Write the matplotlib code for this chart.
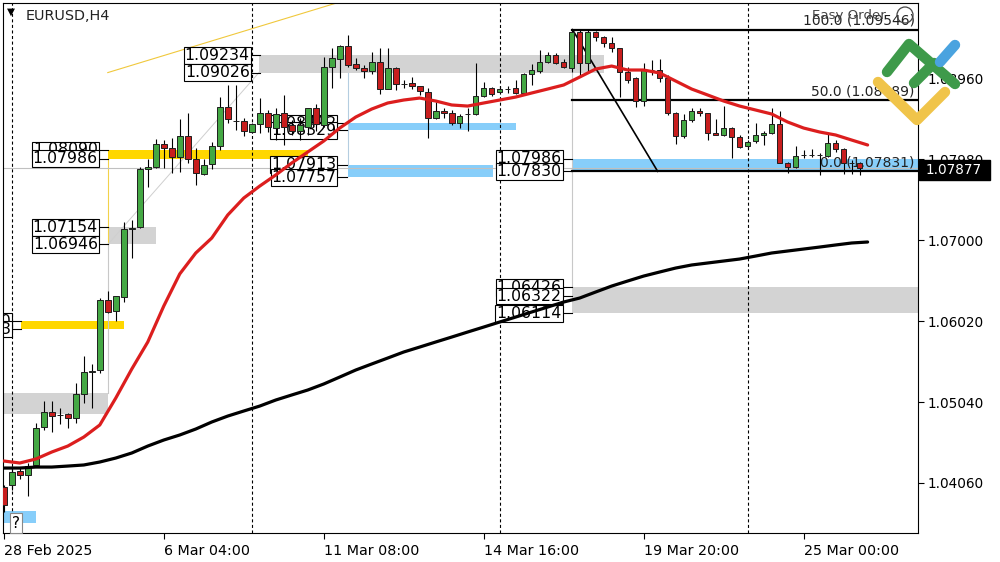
import numpy as np
import matplotlib.pyplot as plt
from matplotlib.lines import Line2D
from matplotlib.patches import Rectangle, Ellipse

plt.rcParams['font.family'] = 'DejaVu Sans'
plt.rcParams['lines.scale_dashes'] = False

# EURUSD H4 candles
opens = [1.04011, 1.04036, 1.04205, 1.04157, 1.04278, 1.04737, 1.04919, 1.04883, 1.04895, 1.04846,
         1.05137, 1.05403, 1.05427, 1.06274, 1.06141, 1.06310, 1.07133, 1.07157, 1.07859, 1.07883,
         1.08162, 1.08113, 1.08004, 1.08258, 1.07980, 1.07799, 1.07920, 1.08137, 1.08609, 1.08440,
         1.08440, 1.08307, 1.08404, 1.08537, 1.08355, 1.08537, 1.08392, 1.08319, 1.08367, 1.08597,
         1.08392, 1.09093, 1.09190, 1.09347, 1.09130, 1.09081, 1.09045, 1.09154, 1.08827, 1.09081,
         1.08888, 1.08900, 1.08863, 1.08791, 1.08476, 1.08561, 1.08537, 1.08416, 1.08525, 1.08525,
         1.08742, 1.08839, 1.08791, 1.08827, 1.08839, 1.08779, 1.09009, 1.09045, 1.09154, 1.09239,
         1.09154, 1.09081, 1.09517, 1.09142, 1.09517, 1.09456, 1.09384, 1.09323, 1.09033, 1.08960,
         1.08682, 1.09057, 1.09057, 1.08960, 1.08537, 1.08258, 1.08452, 1.08561, 1.08537, 1.08295,
         1.08271, 1.08355, 1.08246, 1.08137, 1.08198, 1.08271, 1.08295, 1.08404, 1.07932, 1.07883,
         1.08029, 1.08029, 1.08029, 1.08016, 1.08174, 1.08101, 1.07932, 1.07932]
closes = [1.03793, 1.04193, 1.04157, 1.04265, 1.04725, 1.04919, 1.04870, 1.04883, 1.04846, 1.05137,
          1.05403, 1.05415, 1.06274, 1.06129, 1.06322, 1.07133, 1.07145, 1.07859, 1.07883, 1.08162,
          1.08113, 1.08004, 1.08258, 1.07980, 1.07811, 1.07908, 1.08137, 1.08609, 1.08464, 1.08440,
          1.08319, 1.08404, 1.08537, 1.08367, 1.08525, 1.08367, 1.08319, 1.08392, 1.08597, 1.08404,
          1.09093, 1.09202, 1.09347, 1.09118, 1.09081, 1.09045, 1.09154, 1.08827, 1.09081, 1.08888,
          1.08888, 1.08863, 1.08803, 1.08476, 1.08561, 1.08537, 1.08416, 1.08500, 1.08525, 1.08742,
          1.08839, 1.08767, 1.08827, 1.08827, 1.08779, 1.09009, 1.09057, 1.09154, 1.09239, 1.09142,
          1.09093, 1.09517, 1.09142, 1.09517, 1.09456, 1.09384, 1.09323, 1.09033, 1.08936, 1.08682,
          1.09057, 1.09057, 1.08960, 1.08537, 1.08258, 1.08452, 1.08561, 1.08537, 1.08295, 1.08271,
          1.08355, 1.08246, 1.08125, 1.08186, 1.08271, 1.08295, 1.08404, 1.07932, 1.07883, 1.08016,
          1.08029, 1.08029, 1.08029, 1.08174, 1.08101, 1.07932, 1.07932, 1.07877]
highs = [1.04036, 1.04253, 1.04241, 1.04302, 1.04786, 1.05052, 1.05052, 1.04967, 1.04907, 1.05270,
         1.05596, 1.05500, 1.06298, 1.06383, 1.06322, 1.07218, 1.07242, 1.07883, 1.07980, 1.08222,
         1.08210, 1.08234, 1.08464, 1.08537, 1.08113, 1.07980, 1.08186, 1.08730, 1.08876, 1.08876,
         1.08476, 1.08416, 1.08718, 1.08573, 1.08597, 1.08755, 1.08452, 1.08476, 1.08597, 1.08646,
         1.09214, 1.09323, 1.09360, 1.09481, 1.09202, 1.09118, 1.09275, 1.09323, 1.09323, 1.09093,
         1.08936, 1.08972, 1.08863, 1.08839, 1.08670, 1.08597, 1.08573, 1.08525, 1.08597, 1.09142,
         1.08912, 1.08851, 1.08863, 1.08863, 1.08936, 1.09021, 1.09130, 1.09299, 1.09275, 1.09263,
         1.09190, 1.09546, 1.09541, 1.09541, 1.09529, 1.09468, 1.09456, 1.09323, 1.09093, 1.08972,
         1.09142, 1.09178, 1.09190, 1.08997, 1.08549, 1.08525, 1.08597, 1.08597, 1.08537, 1.08464,
         1.08621, 1.08367, 1.08271, 1.08210, 1.08416, 1.08319, 1.08597, 1.08561, 1.07944, 1.08137,
         1.08089, 1.08101, 1.08053, 1.08295, 1.08210, 1.08113, 1.07968, 1.07944]
lows = [1.03709, 1.03975, 1.04108, 1.03902, 1.04265, 1.04701, 1.04677, 1.04774, 1.04725, 1.04786,
        1.05028, 1.04967, 1.05391, 1.06117, 1.06020, 1.06250, 1.06782, 1.07145, 1.07641, 1.07871,
        1.07871, 1.07811, 1.07823, 1.07932, 1.07666, 1.07787, 1.07859, 1.08089, 1.08416, 1.08331,
        1.08258, 1.08295, 1.08295, 1.08307, 1.08210, 1.08150, 1.08271, 1.08210, 1.08271, 1.08319,
        1.08367, 1.08839, 1.08960, 1.09093, 1.09057, 1.08960, 1.09009, 1.08767, 1.08827, 1.08815,
        1.08839, 1.08827, 1.08755, 1.08234, 1.08464, 1.08476, 1.08392, 1.08355, 1.08319, 1.08513,
        1.08730, 1.08742, 1.08779, 1.08779, 1.08767, 1.08767, 1.08876, 1.09021, 1.09142, 1.09130,
        1.09081, 1.09033, 1.08972, 1.09021, 1.09408, 1.09335, 1.09275, 1.08730, 1.08900, 1.08609,
        1.08621, 1.08997, 1.08912, 1.08513, 1.08162, 1.08234, 1.08428, 1.08500, 1.08210, 1.08271,
        1.08258, 1.07992, 1.08113, 1.08113, 1.08174, 1.08150, 1.08283, 1.07932, 1.07811, 1.07871,
        1.07992, 1.08004, 1.07787, 1.08004, 1.08065, 1.07799, 1.07799, 1.07787]

# moving averages, read every second bar
ma_fast = [1.04326, 1.04302, 1.04350, 1.04435, 1.04507, 1.04616, 1.04762, 1.05088, 1.05439, 1.05766,
           1.06201, 1.06590, 1.06843, 1.07024, 1.07303, 1.07508, 1.07653, 1.07787, 1.07932, 1.08065,
           1.08198, 1.08355, 1.08488, 1.08585, 1.08658, 1.08694, 1.08718, 1.08682, 1.08634, 1.08621,
           1.08658, 1.08694, 1.08730, 1.08779, 1.08827, 1.08876, 1.08972, 1.09069, 1.09105, 1.09057,
           1.09057, 1.09021, 1.08924, 1.08827, 1.08755, 1.08682, 1.08621, 1.08573, 1.08525, 1.08428,
           1.08355, 1.08307, 1.08271, 1.08210, 1.08150]
ma_slow = [1.04241, 1.04241, 1.04253, 1.04253, 1.04265, 1.04278, 1.04314, 1.04362, 1.04423, 1.04507,
           1.04580, 1.04641, 1.04713, 1.04798, 1.04870, 1.04931, 1.04991, 1.05064, 1.05125, 1.05185,
           1.05258, 1.05342, 1.05427, 1.05500, 1.05572, 1.05645, 1.05705, 1.05766, 1.05826, 1.05887,
           1.05947, 1.06008, 1.06068, 1.06129, 1.06189, 1.06250, 1.06298, 1.06371, 1.06443, 1.06504,
           1.06564, 1.06613, 1.06661, 1.06698, 1.06722, 1.06746, 1.06770, 1.06806, 1.06843, 1.06867,
           1.06891, 1.06915, 1.06940, 1.06964, 1.06976]

current_price = 1.07877
price_ticks = [1.08960, 1.07980, 1.07000, 1.06020, 1.05040, 1.04060]
time_tick_pos = [0, 20, 40, 60, 80, 100]
time_tick_labels = ['28 Feb 2025', '6 Mar 04:00', '11 Mar 08:00', '14 Mar 16:00', '19 Mar 20:00', '25 Mar 00:00']
week_starts = [1, 31, 62, 93]

# zones: (bar from, bar to, low, high)
grey_zones = [(31.9, 75.0, 1.09026, 1.09234), (13.0, 19.0, 1.06946, 1.07154),
              (-1.0, 13.0, 1.04895, 1.05149), (71.1, 120.0, 1.06114, 1.06426)]
blue_zones = [(43.0, 64.0, 1.08329, 1.08412), (43.0, 61.2, 1.07757, 1.07913),
              (71.1, 120.0, 1.07830, 1.07986), (-1.0, 4.0, 1.03576, 1.03721)]
gold_zones = [(13.0, 38.0, 1.07986, 1.08090), (2.1, 15.0, 1.05923, 1.06020)]
# price tags: (bar of box right edge, prices)
price_tags = [(30.75, [1.09234, 1.09026]), (11.75, [1.08090, 1.07986]), (11.75, [1.07154, 1.06946]),
              (41.6, [1.08412, 1.08329]), (41.6, [1.07913, 1.07757]), (69.75, [1.07986, 1.07830]),
              (69.75, [1.06426, 1.06322, 1.06114]), (0.9, [1.06020, 1.05923])]
fib_levels = [100.0, 50.0, 0.0]
fib_prices = [1.09546, 1.08689, 1.07831]

fig = plt.figure(figsize=(10, 5.62), dpi=100)
ax = fig.add_axes([0.003, 29 / 562, 0.915, 530 / 562])
ax.set_xlim(-0.1, 114.3)
ax.set_ylim(1.03455, 1.09868)

for x0, x1, lo, hi in grey_zones:
    ax.add_patch(Rectangle((x0, lo), x1 - x0, hi - lo, color='#d3d3d3', lw=0, zorder=0.5))
for x0, x1, lo, hi in blue_zones:
    ax.add_patch(Rectangle((x0, lo), x1 - x0, hi - lo, color='#87cefa', lw=0, zorder=0.5))
for x0, x1, lo, hi in gold_zones:
    ax.add_patch(Rectangle((x0, lo), x1 - x0, hi - lo, color='#ffd700', lw=0, zorder=0.5))

# connector / trend lines
ax.plot([13.0, 13.0], [1.07986, 1.06946], color='#f2d24a', lw=0.8, zorder=0.6)
ax.plot([13.0, 13.0], [1.06946, 1.05149], color='#c8c8c8', lw=0.8, zorder=0.6)
ax.plot([43.0, 43.0], [1.09026, 1.07913], color='#b4cde0', lw=0.8, zorder=0.6)
ax.plot([71.1, 71.1], [1.09546, 1.06426], color='#c8c8c8', lw=0.8, zorder=0.6)
ax.plot([13.0, 42.0], [1.09026, 1.0988], color='#f0c83c', lw=0.8, zorder=0.6)
ax.plot([13.0, 31.9], [1.06946, 1.09026], color='#cfcfcf', lw=0.7, zorder=0.6)
ax.axhline(current_price, color='#c0c0c0', lw=0.8, zorder=0.7)

for s in week_starts:
    ax.axvline(s, color='black', lw=0.8, linestyle=(0, (2.2, 1.8)), zorder=0.8)

# price tags
for xr, prices in price_tags:
    for p in prices:
        ax.plot([xr, xr + 1.25], [p, p], color='black', lw=0.8, zorder=1)
        ax.text(xr, p, f'{p:.5f}', ha='right', va='center', fontsize=11.3, color='black',
                bbox=dict(boxstyle='square,pad=0.06', facecolor='white', edgecolor='black', lw=0.8),
                zorder=1, clip_on=True)

# fibonacci
for lvl, p in zip(fib_levels, fib_prices):
    ax.plot([71.1, 114.3], [p, p], color='black', lw=1.6, zorder=1)
    ax.text(113.9, p + 0.00028, f'{lvl:.1f} ({p:.5f})', ha='right', va='bottom',
            fontsize=10, color='#222222', zorder=1)
ax.plot([71.1, 81.75], [fib_prices[0], fib_prices[2]], color='black', lw=1.2, zorder=1)

# candles
o = np.array(opens)
c = np.array(closes)
x = np.arange(len(o))
ax.vlines(x, lows, highs, color='black', lw=0.8, zorder=3)
cols = np.where(c > o, '#44a844', np.where(c < o, '#c81e1e', 'black'))
ax.bar(x, np.abs(c - o), bottom=np.minimum(o, c), width=0.7, color=cols,
       edgecolor='#1e1e1e', linewidth=0.7, zorder=3.5)

ma_x = np.arange(0, 2 * len(ma_fast), 2)
ax.plot(ma_x, ma_slow, color='black', lw=2.3, zorder=4, solid_capstyle='round')
ax.plot(ma_x, ma_fast, color='#dc1e1e', lw=2.3, zorder=4.2, solid_capstyle='round')

ax.text(1.5, 1.03576, '?', ha='center', va='center', fontsize=11, zorder=5,
        bbox=dict(boxstyle='square,pad=0.15', facecolor='white', edgecolor='#888888', lw=0.8))

# axes styling
for sp in ax.spines.values():
    sp.set_color('black')
    sp.set_linewidth(0.8)
ax.yaxis.tick_right()
ax.set_yticks(price_ticks)
ax.set_yticklabels([f'{p:.5f}' for p in price_ticks])
ax.tick_params(axis='y', length=4, width=0.8, labelsize=9.8, pad=3, colors='black')
ax.set_xticks(time_tick_pos)
ax.set_xticklabels(time_tick_labels)
for lbl in ax.get_xticklabels():
    lbl.set_ha('left')
ax.tick_params(axis='x', length=4, width=0.8, labelsize=10.3, pad=4, colors='black')


def fp(px, py):
    return px / 1000, 1 - py / 562


# current price tag on the axis
fig.patches.append(Rectangle(fp(919, 180), 71 / 1000, 20 / 562, transform=fig.transFigure,
                             facecolor='black', edgecolor='black', zorder=5))
fig.text(*fp(926, 170.5), f'{current_price:.5f}', color='white', fontsize=9.8, va='center', ha='left', zorder=6)

# header
fig.text(*fp(7, 12), '\u25bc', fontsize=7.5, va='center', ha='left', color='black')
fig.text(*fp(26, 16), 'EURUSD,H4', fontsize=10.4, va='center', ha='left', color='#222222')
fig.text(*fp(812, 16), 'Easy Order', fontsize=9.6, va='center', ha='left', color='#444444')
fig.patches.append(Ellipse(fp(905, 15), 16 / 1000, 16 / 562, transform=fig.transFigure,
                           facecolor='none', edgecolor='#444444', lw=0.9, zorder=5))

# logo
for pts, col in [([(878, 82), (917, 120), (945, 92)], '#f0c44a'),
                 ([(887, 72), (909, 44), (955, 84)], '#3e9a4a'),
                 ([(914, 83), (934, 63)], '#3e9a4a'),
                 ([(940, 62), (955, 45)], '#4aa3df')]:
    xs = [fp(a, b)[0] for a, b in pts]
    ys = [fp(a, b)[1] for a, b in pts]
    fig.add_artist(Line2D(xs, ys, transform=fig.transFigure, color=col, lw=7.5,
                          solid_capstyle='round', solid_joinstyle='round', zorder=7))

fig.savefig('out.png', dpi=100, facecolor='white')
